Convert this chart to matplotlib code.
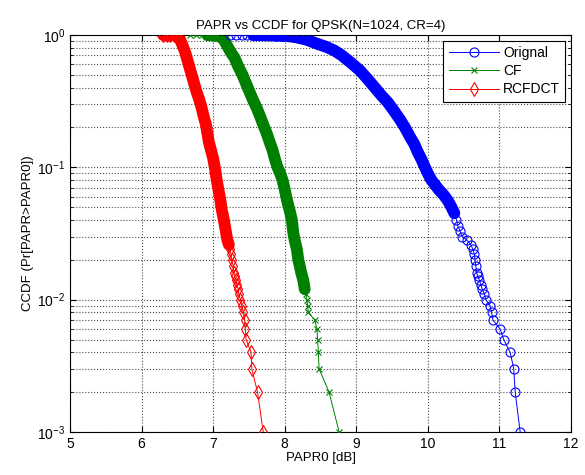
import numpy as np
import matplotlib
matplotlib.use('Agg')
import matplotlib.pyplot as plt
from matplotlib.ticker import LogLocator, FixedLocator

# CCDF curves (x = PAPR0 in dB, p = CCDF)
orig_x = [7.24, 7.32, 7.40, 7.48, 7.56, 7.64, 7.72, 7.80, 7.88, 7.96, 8.04, 8.12, 8.20,
          8.31, 8.45, 8.59, 8.70, 8.80, 8.92, 9.05, 9.15, 9.26, 9.35, 9.44, 9.52, 9.61,
          9.68, 9.75, 9.81, 9.86, 9.91, 9.96, 10.00, 10.05, 10.10, 10.15, 10.22, 10.28,
          10.33, 10.37, 10.40, 10.42, 10.45, 10.48, 10.55, 10.60, 10.63, 10.65, 10.66,
          10.67, 10.68, 10.70, 10.72, 10.74, 10.76, 10.79, 10.81, 10.87, 10.89, 10.91,
          11.01, 11.06, 11.15, 11.20, 11.22, 11.29]
orig_p = [1.0, 0.999, 0.998, 0.997, 0.996, 0.995, 0.994, 0.992, 0.99, 0.985, 0.98, 0.97, 0.95,
          0.92, 0.86, 0.81, 0.76, 0.70, 0.62, 0.54, 0.47, 0.40, 0.35, 0.31, 0.27, 0.23,
          0.20, 0.17, 0.15, 0.13, 0.115, 0.10, 0.09, 0.08, 0.074, 0.068, 0.062, 0.056,
          0.050, 0.045, 0.040, 0.036, 0.033, 0.030, 0.028, 0.026, 0.024, 0.022, 0.020,
          0.018, 0.016, 0.015, 0.014, 0.013, 0.012, 0.011, 0.010, 0.009, 0.008, 0.007,
          0.006, 0.005, 0.004, 0.003, 0.002, 0.001]

cf_x = [6.68, 6.76, 6.84, 6.92, 6.99, 7.05, 7.10, 7.14, 7.19, 7.24, 7.30, 7.35, 7.41, 7.46,
        7.51, 7.56, 7.61, 7.66, 7.70, 7.75, 7.79, 7.83, 7.86, 7.90, 7.93, 7.97, 8.00, 8.03,
        8.07, 8.10, 8.12, 8.14, 8.17, 8.19, 8.21, 8.23, 8.26, 8.28, 8.30, 8.31, 8.32, 8.33,
        8.42, 8.45, 8.46, 8.47, 8.48, 8.62, 8.76]
cf_p = [1.0, 0.999, 0.998, 0.996, 0.993, 0.985, 0.97, 0.94, 0.84, 0.75, 0.67, 0.58, 0.50, 0.43,
        0.37, 0.32, 0.28, 0.24, 0.21, 0.18, 0.155, 0.135, 0.117, 0.10, 0.092, 0.080, 0.068, 0.057,
        0.047, 0.040, 0.032, 0.028, 0.024, 0.020, 0.018, 0.016, 0.014, 0.012, 0.011, 0.010, 0.009, 0.008,
        0.007, 0.006, 0.005, 0.004, 0.003, 0.002, 0.001]

rcf_x = [6.30, 6.35, 6.40, 6.45, 6.49, 6.52, 6.54, 6.57, 6.61, 6.65, 6.70, 6.74, 6.77, 6.81,
         6.84, 6.87, 6.90, 6.92, 6.94, 6.97, 7.00, 7.03, 7.05, 7.08, 7.10, 7.12, 7.15, 7.19,
         7.20, 7.22, 7.23, 7.25, 7.26, 7.28, 7.29, 7.30, 7.32, 7.33, 7.35, 7.36, 7.38, 7.40,
         7.42, 7.44, 7.45, 7.46, 7.53, 7.54, 7.62, 7.70]
rcf_p = [1.0, 0.999, 0.997, 0.993, 0.985, 0.96, 0.92, 0.84, 0.74, 0.62, 0.50, 0.42, 0.37, 0.32,
         0.28, 0.24, 0.21, 0.18, 0.155, 0.135, 0.117, 0.095, 0.080, 0.065, 0.057, 0.048, 0.040, 0.030,
         0.028, 0.026, 0.024, 0.022, 0.020, 0.018, 0.016, 0.015, 0.014, 0.013, 0.012, 0.011, 0.010, 0.009,
         0.008, 0.007, 0.006, 0.005, 0.004, 0.003, 0.002, 0.001]

# name, x, p, colour, marker, marker size, CCDF range where markers merge into a solid band
series = [
    ('Orignal', orig_x, orig_p, (0, 0, 1), 'o', 6.5, (0.045, 0.996)),
    ('CF', cf_x, cf_p, (0, 0.5, 0), 'x', 5, (0.012, 0.996)),
    ('RCFDCT', rcf_x, rcf_p, (1, 0, 0), 'd', 7.5, (0.026, 1.0)),
]

plt.rcParams['font.family'] = ['Liberation Sans', 'DejaVu Sans']

fig = plt.figure(figsize=(5.85, 4.75), dpi=100)
ax = fig.add_axes([70 / 585, 1 - 432 / 475, 501 / 585, 397 / 475])

for name, xs, ps, col, mk, ms, (lo, hi) in series:
    xs = np.array(xs)
    ps = np.array(ps)
    dense = (ps >= lo) & (ps <= hi)
    ax.plot(xs[dense], ps[dense], '-', color=col, lw=8.5,
            solid_capstyle='round', solid_joinstyle='round', zorder=2)
    ax.plot(xs, ps, '-', color=col, lw=0.7, marker=mk, ms=ms,
            mfc='none', mec=col, mew=0.8, label=name, zorder=3)

ax.set_yscale('log')
ax.set_xlim(5, 12)
ax.set_ylim(1e-3, 1)
ax.xaxis.set_major_locator(FixedLocator(range(5, 13)))
ax.yaxis.set_major_locator(LogLocator(base=10, numticks=10))
ax.yaxis.set_minor_locator(LogLocator(base=10, subs=np.arange(2, 10), numticks=20))

ax.grid(True, which='major', axis='both', color='k', linestyle=':', linewidth=0.8, alpha=0.7)
ax.grid(True, which='minor', axis='y', color='k', linestyle=':', linewidth=0.8, alpha=0.7)
ax.tick_params(which='both', direction='in', top=True, right=True, labelsize=10)
ax.tick_params(which='major', length=4)
ax.tick_params(which='minor', length=2)
ax.tick_params(axis='x', which='minor', bottom=False, top=False)
for sp in ax.spines.values():
    sp.set_linewidth(0.8)

ax.set_title('PAPR vs CCDF for QPSK(N=1024, CR=4)', fontsize=9.5, pad=4)
ax.set_xlabel('PAPR0 [dB]', fontsize=9.5, labelpad=1)
ax.set_ylabel('CCDF (Pr[PAPR>PAPR0])', fontsize=9.5, labelpad=2)

leg = ax.legend(loc='upper right', fontsize=10, fancybox=False, framealpha=1,
                edgecolor='k', handlelength=3.6, handletextpad=0.3,
                borderaxespad=0.4, labelspacing=0.3)
leg.get_frame().set_linewidth(0.8)

fig.savefig('out.png', dpi=100)
plt.close(fig)
